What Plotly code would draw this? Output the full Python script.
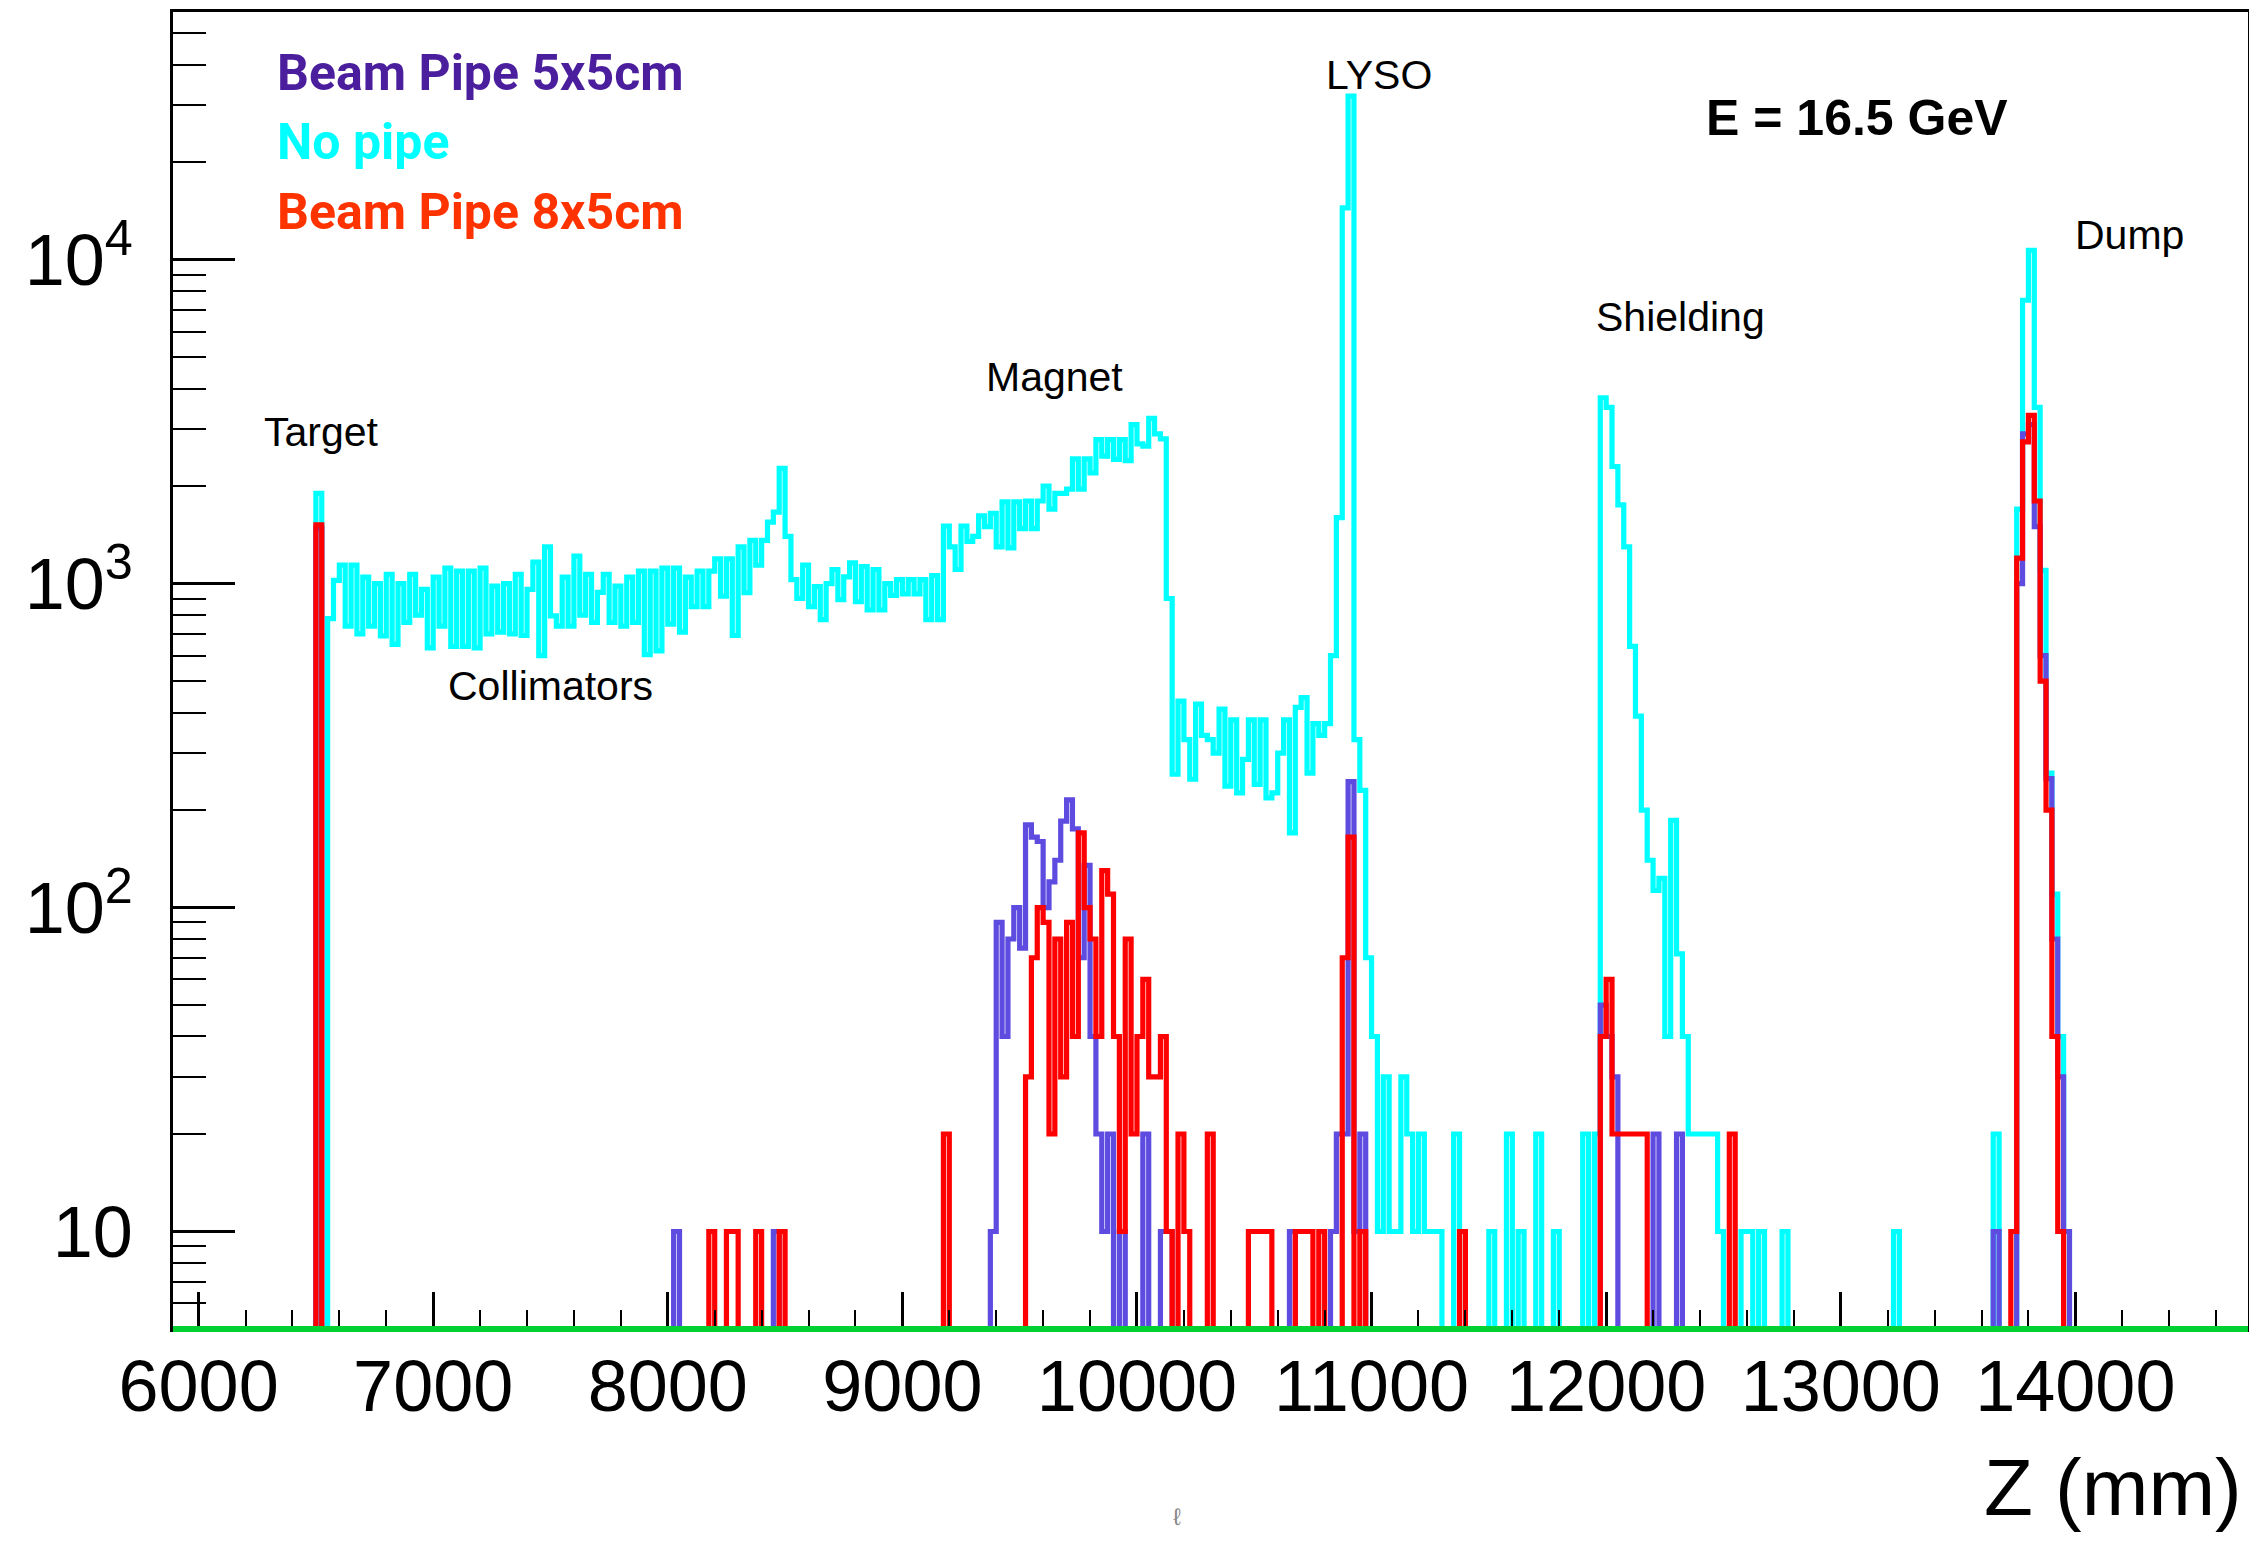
import numpy as np
import plotly.graph_objects as go

# ---------------- data (counts per 25 mm bin) ----------------
BIN_WIDTH = 25.0
Z_FIRST_EDGE = 5900.0
N_BINS = 354

# "No pipe" (cyan): contiguous bins starting at 6500 mm
cyan_first_bin = 6500
cyan_counts = [
    1900, 0, 780, 1024, 1141, 740, 1141, 700, 1048, 740,          # 6500-6725
    1000, 690, 1068, 650, 1000, 760, 1068, 800, 960, 634,         # 6750-6975
    1048, 740, 1117, 640, 1093, 640, 1093, 634, 1117, 700,        # 7000-7225
    983, 709, 1000, 700, 1068, 692, 960, 1165, 600, 1300,         # 7250-7475
    795, 740, 1048, 740, 1216, 800, 1068, 760, 940, 1068,         # 7500-7725
    760, 983, 740, 1048, 760, 1093, 604, 1093, 620, 1117,         # 7750-7975
    750, 1117, 709, 1048, 850, 1093, 850, 1093, 1194, 916,        # 8000-8225
    1194, 692, 1300, 938, 1360, 1140, 1360, 1549, 1663, 2270,     # 8250-8475
    1400, 1030, 900, 1142, 850, 980, 775, 1000, 1106, 893,        # 8500-8725
    1050, 1160, 880, 1130, 830, 1106, 830, 1000, 920, 1030,       # 8750-8975
    930, 1030, 930, 1030, 775, 1060, 775, 1506, 1300, 1106,       # 9000-9225
    1506, 1350, 1400, 1620, 1500, 1650, 1300, 1790, 1290, 1790,   # 9250-9475
    1480, 1800, 1480, 1800, 2000, 1700, 1900, 1900, 1960, 2430,   # 9500-9725
    1960, 2430, 2200, 2786, 2478, 2786, 2420, 2786, 2400, 3100,   # 9750-9975
    2700, 2660, 3240, 2900, 2800, 900, 258, 434, 330, 249,        # 10000-10225
    425, 340, 330, 300, 410, 237, 380, 226, 287, 380,             # 10250-10475
    240, 380, 218, 226, 300, 380, 170, 415, 445, 260,             # 10500-10725
    370, 340, 370, 600, 1600, 14460, 32000, 330, 230, 70,         # 10750-10975
    40, 10, 30, 10, 10, 30, 20, 10, 20, 10,                       # 11000-11225
    10, 10, 0, 0, 20, 0, 0, 0, 0, 0,                              # 11250-11475
    10, 0, 0, 20, 0, 10, 0, 0, 20, 0,                             # 11500-11725
    0, 10, 0, 0, 0, 0, 20, 0, 20, 3750,                           # 11750-11975
    3500, 2300, 1750, 1300, 640, 390, 200, 140, 113, 123,         # 12000-12225
    40, 186, 72, 40, 20, 20, 20, 20, 20, 10,                      # 12250-12475
    0, 0, 0, 10, 10, 0, 10, 0, 0, 0,                              # 12500-12725
    10, 0, 0, 0, 0, 0, 0, 0, 0, 0,                                # 12750-12975
    0, 0, 0, 0, 0, 0, 0, 0, 0, 10,                                # 13000-13225
    0, 0, 0, 0, 0, 0, 0, 0, 0, 0,                                 # 13250-13475
    0, 0, 0, 0, 0, 0, 20, 0, 0, 0,                                # 13500-13725
    1700, 7500, 10700, 3500, 1100, 260, 110, 40, 10, 0,           # 13750-13975
]

# "Beam Pipe 5x5cm" (blue/purple): bin lower edge (mm) and counts
blue_bins = [6500, 8025, 8450, 9375, 9400, 9425, 9450, 9475, 9500, 9525,
             9550, 9575, 9600, 9625, 9650, 9675, 9700, 9725, 9750, 9775,
             9800, 9825, 9850, 9875, 9925, 10025, 10100, 10125, 10650, 10825,
             10850, 10875, 10900, 10925, 10950, 11975, 12000, 12025, 12200, 12300,
             13650, 13750, 13775, 13800, 13825, 13850, 13875, 13900, 13925, 13950]
blue_counts = [1480, 10, 10, 10, 90, 40, 80, 100, 75, 180,
               165, 160, 100, 120, 140, 185, 215, 175, 70, 135,
               40, 20, 10, 20, 10, 20, 10, 10, 10, 10,
               20, 20, 245, 10, 20, 50, 40, 30, 20, 20,
               10, 1000, 2900, 3100, 1500, 600, 250, 80, 30, 10]

# "Beam Pipe 8x5cm" (red)
red_bins = [6500, 8175, 8250, 8275, 8375, 8475, 9175, 9525, 9550, 9575,
            9600, 9625, 9650, 9675, 9700, 9725, 9750, 9775, 9800, 9825,
            9850, 9875, 9900, 9925, 9950, 9975, 10000, 10025, 10050, 10075,
            10100, 10125, 10175, 10200, 10300, 10475, 10500, 10525, 10550, 10675,
            10700, 10725, 10775, 10875, 10900, 10950, 11375, 11975, 12000, 12025,
            12050, 12075, 12100, 12125, 12150, 12525, 13725, 13750, 13775, 13800,
            13825, 13850, 13875, 13900, 13925]
red_counts = [1520, 10, 10, 10, 10, 10, 20, 30, 70, 100,
              90, 20, 80, 30, 90, 40, 170, 100, 80, 40,
              130, 110, 40, 10, 80, 20, 40, 60, 30, 30,
              40, 10, 20, 10, 20, 10, 10, 10, 10, 10,
              10, 10, 10, 70, 165, 10, 10, 40, 60, 20,
              20, 20, 20, 20, 20, 20, 10, 1200, 2740, 3310,
              1800, 500, 200, 40, 10]

x_tick_values = [6000, 7000, 8000, 9000, 10000, 11000, 12000, 13000, 14000]
x_tick_text = ["6000", "7000", "8000", "9000", "10000", "11000", "12000", "13000", "14000"]
y_tick_values = [10, 100, 1000, 10000]
y_tick_text = ["10", "10<sup>2</sup>", "10<sup>3</sup>", "10<sup>4</sup>"]

legend_texts = ["Beam Pipe 5x5cm", "No pipe", "Beam Pipe 8x5cm"]
legend_colors = ["#4a1e9c", "#00ffff", "#ff3300"]

region_labels = ["Target", "Collimators", "Magnet", "LYSO", "Shielding", "Dump"]
region_label_z = [6522, 7498, 9650, 11032, 12315, 14229]
region_label_log = [3.467, 2.683, 3.637, 4.569, 3.822, 4.075]

energy_text = "E = 16.5 GeV"

# ---------------- build step histograms ----------------
edges = Z_FIRST_EDGE + BIN_WIDTH * np.arange(N_BINS + 1)
FLOOR = 0.5  # below the axis minimum: empty bins drawn off the bottom, like ROOT


def counts_from_contiguous(first_bin, counts):
    full = np.zeros(N_BINS)
    i0 = int(round((first_bin - Z_FIRST_EDGE) / BIN_WIDTH))
    full[i0:i0 + len(counts)] = counts
    return full


def counts_from_sparse(bins, counts):
    full = np.zeros(N_BINS)
    for b, c in zip(bins, counts):
        full[int(round((b - Z_FIRST_EDGE) / BIN_WIDTH))] = c
    return full


def step_xy(full):
    c = np.where(full > 0, full, FLOOR)
    x = np.concatenate([[edges[0]], edges])
    y = np.concatenate([[FLOOR], c, [FLOOR]])
    return x, y


series = [
    ("No pipe", counts_from_contiguous(cyan_first_bin, cyan_counts), "#00ffff"),
    ("Beam Pipe 5x5cm", counts_from_sparse(blue_bins, blue_counts), "#5e4be0"),
    ("Beam Pipe 8x5cm", counts_from_sparse(red_bins, red_counts), "#ff0000"),
]

fig = go.Figure()
for name, full, color in series:
    x, y = step_xy(full)
    fig.add_trace(go.Scatter(x=x, y=y, mode="lines", name=name,
                             line=dict(color=color, width=5.2, shape="hv", simplify=False),
                             hoverinfo="skip"))

FONT = "Liberation Sans, Arial, Helvetica, sans-serif"
LEGEND_FONT = "Roboto, Liberation Sans, sans-serif"

x_minor = [v for v in range(6200, 14800, 200) if v % 1000 != 0]
y_minor = [m * 10 ** d for d in range(0, 5) for m in range(2, 10)
           if 5 < m * 10 ** d < 58000 and m * 10 ** d not in y_tick_values]

# page body has an 8 px margin: the figure is sized/placed to compensate
fig.update_layout(
    width=2241, height=1525,
    margin=dict(l=165, r=1, t=4, b=204, autoexpand=False),
    plot_bgcolor="white", paper_bgcolor="white",
    showlegend=False,
    xaxis=dict(range=[5890.9, 14736], tickmode="array", tickvals=x_tick_values,
               ticktext=x_tick_text,
               ticks="inside", ticklen=37, tickwidth=2.5, tickcolor="black",
               showline=True, linecolor="black", linewidth=2.5, mirror=True,
               showgrid=False, zeroline=False, automargin=False,
               ticklabelstandoff=-7,
               tickfont=dict(family=FONT, size=72, color="black"),
               minor=dict(tickmode="array", tickvals=x_minor, ticks="inside",
                          ticklen=19, tickwidth=2, tickcolor="black", showgrid=False)),
    yaxis=dict(type="log", range=[np.log10(5), 4.765], tickmode="array",
               tickvals=y_tick_values, ticktext=y_tick_text,
               ticks="inside", ticklen=62, tickwidth=2.5, tickcolor="black",
               showline=True, linecolor="black", linewidth=2.5, mirror=True,
               showgrid=False, zeroline=False, automargin=False,
               ticklabelstandoff=23,
               tickfont=dict(family=FONT, size=72, color="black"),
               minor=dict(tickmode="array", tickvals=y_minor, ticks="inside",
                          ticklen=33, tickwidth=2, tickcolor="black", showgrid=False)),
)

# green baseline along the bottom of the frame
fig.add_shape(type="line", xref="paper", yref="paper", x0=0, x1=1, y0=0, y1=0,
              line=dict(color="#00d030", width=6), layer="above")

# legend texts
for i, (txt, col) in enumerate(zip(legend_texts, legend_colors)):
    fig.add_annotation(xref="paper", yref="paper", x=0.0492, y=[0.9537, 0.9013, 0.8481][i],
                       xanchor="left", yanchor="middle", showarrow=False,
                       text="<b>" + txt + "</b>",
                       font=dict(family=LEGEND_FONT, size=50, color=col))

# region labels
for txt, z, lg in zip(region_labels, region_label_z, region_label_log):
    fig.add_annotation(x=z, y=lg, xref="x", yref="y", showarrow=False,
                       xanchor="center", yanchor="middle", text=txt,
                       font=dict(family=FONT, size=41, color="black"))

fig.add_annotation(x=13069, y=4.439, xref="x", yref="y", showarrow=False,
                   xanchor="center", yanchor="middle", text="<b>" + energy_text + "</b>",
                   font=dict(family=FONT, size=50, color="black"))

# axis title
fig.add_annotation(xref="paper", yref="paper", x=0.998, y=-0.12, xanchor="right",
                   yanchor="middle", showarrow=False, text="Z (mm)",
                   font=dict(family=FONT, size=80, color="black"))

# small grey glyph at the bottom edge
fig.add_annotation(xref="paper", yref="paper", x=0.4839, y=-0.142, xanchor="center",
                   yanchor="middle", showarrow=False, text="ℓ",
                   font=dict(family=FONT, size=24, color="#888888"))

fig.write_html("out.html")
